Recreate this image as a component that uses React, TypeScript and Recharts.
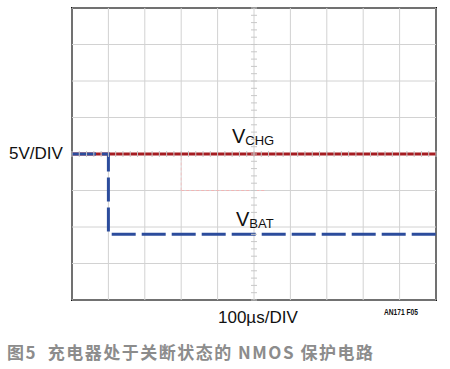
import {
  ComposedChart,
  Line,
  Scatter,
  XAxis,
  YAxis,
  ReferenceArea,
  ReferenceLine
} from "recharts";

// scope screen: 10 horizontal divisions, 8 vertical divisions
const xTicks = [0, 1, 2, 3, 4, 5, 6, 7, 8, 9, 10];
const yTicks = [0, 1, 2, 3, 4, 5, 6, 7, 8];

// V_CHG trace (divisions)
const chgData = [
  { x: 0, v: 4 },
  { x: 10, v: 4 }
];

// V_BAT trace (divisions)
const batData = [
  { x: 0, v: 4 },
  { x: 1, v: 4 },
  { x: 1, v: 1.8 },
  { x: 10, v: 1.8 }
];

// minor graticule marks on the centre lines (5 per division)
const minorOnVertical = Array.from({ length: 41 }, (_, i) => ({ x: 5, v: i * 0.2 }));
const minorOnHorizontal = Array.from({ length: 51 }, (_, i) => ({ x: i * 0.2, v: 4 }));

const RED = "#a51d22";
const BLUE = "#2c4c9c";
const GRID = "#d2d2d2";

const HTick = (props: any) => {
  const { cx, cy } = props;
  return <line x1={cx - 3} x2={cx + 3} y1={cy} y2={cy} stroke="#c8c8c8" strokeWidth={1} />;
};

const VTick = (props: any) => {
  const { cx, cy } = props;
  return <line x1={cx} x2={cx} y1={cy - 3} y2={cy + 3} stroke="#c8c8c8" strokeWidth={1} />;
};

export default function App() {
  const font = "'Liberation Sans', Arial, sans-serif";
  return (
    <div style={{ position: "absolute", left: 0, top: 0, width: 450, height: 369, background: "#fff" }}>
      <ComposedChart
        width={450}
        height={369}
        margin={{ top: 8, right: 14, left: 72, bottom: 69 }}
      >
        <XAxis
          type="number"
          dataKey="x"
          domain={[0, 10]}
          ticks={xTicks}
          tick={false}
          axisLine={false}
          tickLine={false}
          height={0}
          allowDuplicatedCategory={false}
        />
        <YAxis
          type="number"
          dataKey="v"
          domain={[0, 8]}
          ticks={yTicks}
          tick={false}
          axisLine={false}
          tickLine={false}
          width={0}
        />
        {xTicks.map((t) => (
          <ReferenceLine key={"gx" + t} x={t} stroke={GRID} strokeWidth={1} />
        ))}
        {yTicks.map((t) => (
          <ReferenceLine key={"gy" + t} y={t} stroke={GRID} strokeWidth={1} />
        ))}
        <Scatter data={minorOnVertical} shape={<HTick />} isAnimationActive={false} />
        <Scatter data={minorOnHorizontal} shape={<VTick />} isAnimationActive={false} />
        <ReferenceLine
          segment={[{ x: 3, y: 3 }, { x: 5.3, y: 3 }]}
          stroke="#f2b4b4"
          strokeDasharray="3 2"
        />
        <ReferenceLine
          segment={[{ x: 3, y: 3 }, { x: 3, y: 4 }]}
          stroke="#f2c4c4"
          strokeDasharray="3 2"
        />
        <ReferenceArea x1={0} x2={10} y1={0} y2={8} fill="none" stroke="#111" strokeWidth={2} />
        <Line
          data={chgData}
          dataKey="v"
          type="linear"
          stroke={RED}
          strokeWidth={3}
          dot={false}
          isAnimationActive={false}
        />
        <Line
          data={batData}
          dataKey="v"
          type="linear"
          stroke={BLUE}
          strokeWidth={3}
          strokeDasharray="24 6"
          dot={false}
          isAnimationActive={false}
        />
      </ComposedChart>
      <svg
        width={450}
        height={369}
        style={{ position: "absolute", left: 0, top: 0, pointerEvents: "none" }}
      >
        <text x={9} y={159} fontSize={17} fontFamily={font} fill="#111">5V/DIV</text>
        <text x={232} y={143} fontSize={20} fontFamily={font} fill="#111">
          V<tspan fontSize={13} dy={2}>CHG</tspan>
        </text>
        <text x={236} y={226} fontSize={20} fontFamily={font} fill="#111">
          V<tspan fontSize={13} dy={2}>BAT</tspan>
        </text>
        <text x={218} y={323} fontSize={17} fontFamily={font} fill="#111">100µs/DIV</text>
        <text
          x={384}
          y={315}
          fontSize={9}
          fontWeight="bold"
          fontFamily={font}
          fill="#111"
          textLength={34}
          lengthAdjust="spacingAndGlyphs"
        >
          AN171 F05
        </text>
        <text
          x={7}
          y={359}
          fontSize={17}
          fontWeight="bold"
          fontFamily="'Noto Sans CJK SC', sans-serif"
          fill="#8c8c8c"
          letterSpacing={1.5}
          style={{ whiteSpace: "pre" }}
        >
          {"图5  充电器处于关断状态的 NMOS 保护电路"}
        </text>
      </svg>
    </div>
  );
}
